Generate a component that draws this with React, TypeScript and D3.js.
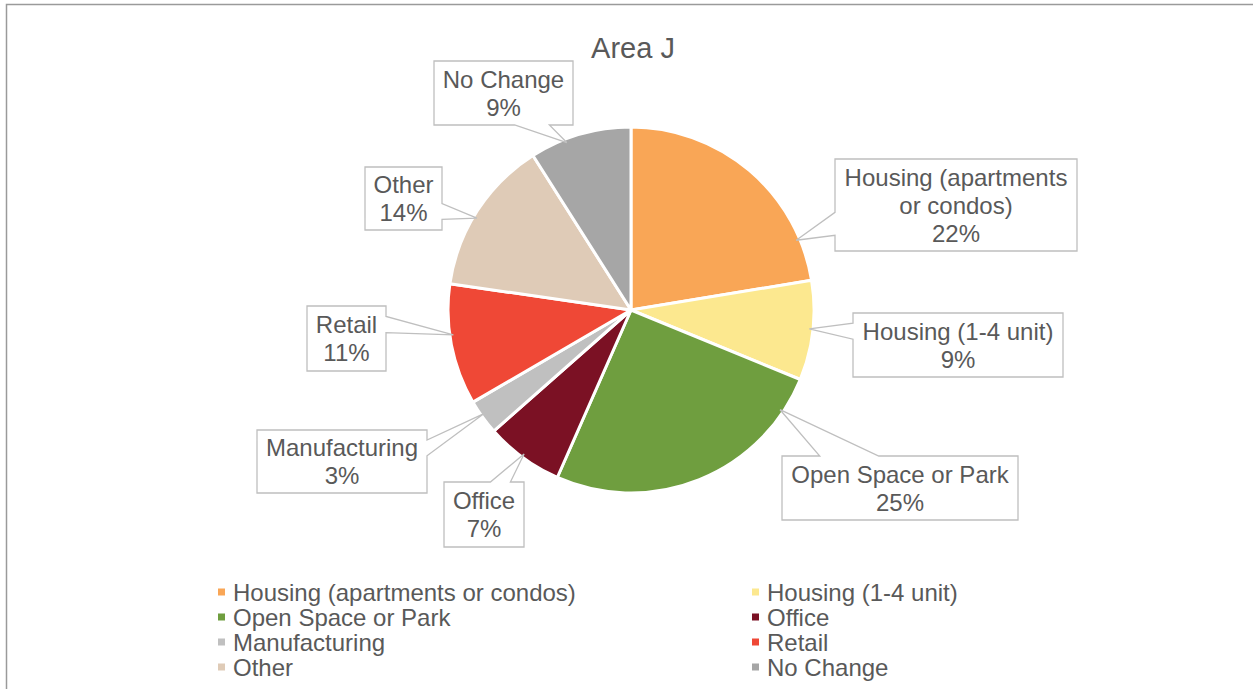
import React from "react";
import * as d3 from "d3";

const title = "Area J";
const categories = [
  "Housing (apartments or condos)",
  "Housing (1-4 unit)",
  "Open Space or Park",
  "Office",
  "Manufacturing",
  "Retail",
  "Other",
  "No Change",
];
const values = [22.4, 8.8, 25.4, 6.9, 3.1, 10.7, 13.7, 9.0];
const colors = ["#F9A656", "#FCE88F", "#6F9E3F", "#7B1124", "#C0C0C0", "#EF4836", "#DFCBB7", "#A6A6A6"];
const labelNames = [
  ["Housing (apartments", "or condos)"],
  ["Housing (1-4 unit)"],
  ["Open Space or Park"],
  ["Office"],
  ["Manufacturing"],
  ["Retail"],
  ["Other"],
  ["No Change"],
];

// layout (positions of callout boxes)
const boxes = [
  { x: 835, y: 159, w: 242, h: 92, edge: "left" },
  { x: 853, y: 313, w: 210, h: 64, edge: "left" },
  { x: 782, y: 456, w: 236, h: 64, edge: "top" },
  { x: 444, y: 482, w: 80, h: 65, edge: "top" },
  { x: 257, y: 430, w: 170, h: 63, edge: "right" },
  { x: 307, y: 306, w: 79, h: 65, edge: "right" },
  { x: 365, y: 167, w: 77, h: 63, edge: "right" },
  { x: 434, y: 61, w: 139, h: 64, edge: "bottom" },
];

const W = 1253;
const H = 689;
const cx = 631;
const cy = 310;
const R = 183;
const FONT = "'Liberation Sans', Arial, sans-serif";
const TXT = "#595959";

function edgeMid(b: any) {
  if (b.edge === "left") return [b.x, b.y + b.h / 2];
  if (b.edge === "right") return [b.x + b.w, b.y + b.h / 2];
  if (b.edge === "top") return [b.x + b.w / 2, b.y];
  return [b.x + b.w / 2, b.y + b.h];
}

function angleTo(px: number, py: number) {
  let a = Math.atan2(px - cx, -(py - cy));
  if (a < 0) a += Math.PI * 2;
  return a;
}

function clampAngle(a: number, s: number, e: number) {
  const m = (4 * Math.PI) / 180;
  const lo = s + Math.min(m, (e - s) / 2);
  const hi = e - Math.min(m, (e - s) / 2);
  if (e > Math.PI * 1.5 && a < Math.PI / 2) a += Math.PI * 2;
  return Math.max(lo, Math.min(hi, a));
}

function basePoints(b: any, tip: [number, number]) {
  const horiz = b.edge === "top" || b.edge === "bottom";
  const len = horiz ? b.w : b.h;
  const start = horiz ? b.x : b.y;
  const tipCoord = horiz ? tip[0] : tip[1];
  const center = start + len / 2;
  const [f1, f2] = tipCoord < center ? [0.16, 0.41] : [0.58, 0.83];
  const p1 = start + f1 * len;
  const p2 = start + f2 * len;
  if (b.edge === "left") return [[b.x, p1], [b.x, p2]];
  if (b.edge === "right") return [[b.x + b.w, p1], [b.x + b.w, p2]];
  if (b.edge === "top") return [[p1, b.y], [p2, b.y]];
  return [[p1, b.y + b.h], [p2, b.y + b.h]];
}

function calloutPath(b: any, tip: [number, number]) {
  const [a, c] = basePoints(b, tip);
  const { x, y, w, h } = b;
  const pts: number[][] = [];
  pts.push([x, y]);
  if (b.edge === "top") pts.push(a, tip, c);
  pts.push([x + w, y]);
  if (b.edge === "right") pts.push(a, tip, c);
  pts.push([x + w, y + h]);
  if (b.edge === "bottom") pts.push(c, tip, a);
  pts.push([x, y + h]);
  if (b.edge === "left") pts.push(c, tip, a);
  return "M" + pts.map((p) => p[0] + "," + p[1]).join("L") + "Z";
}

export default function App() {
  const total = d3.sum(values);
  const pie = d3
    .pie<number>()
    .sort(null)
    .value((d) => d)
    .startAngle(0)
    .endAngle(Math.PI * 2);
  const arcs = pie(values);
  const arc = d3.arc<any>().innerRadius(0).outerRadius(R);

  const legendRows = [592, 617, 642, 667];
  const legendCols = [
    { mx: 218, tx: 233 },
    { mx: 752, tx: 767 },
  ];

  return (
    <div style={{ position: "fixed", left: 0, top: 0, width: W, height: H, background: "#fff" }}>
      <svg width={W} height={H} style={{ display: "block" }}>
        <rect x={0} y={0} width={W} height={H} fill="#fff" />
        <rect x={6.5} y={4.5} width={W + 10} height={H + 10} fill="none" stroke="#9A9A9A" strokeWidth={1.5} />
        <text x={633} y={58} textAnchor="middle" fontFamily={FONT} fontSize={29} fill={TXT}>
          {title}
        </text>
        <g transform={`translate(${cx},${cy})`}>
          {arcs.map((a, i) => (
            <path key={i} d={arc(a) as string} fill={colors[i]} stroke="#fff" strokeWidth={3} strokeLinejoin="round" />
          ))}
        </g>
        {arcs.map((a, i) => {
          const b = boxes[i];
          const em = edgeMid(b);
          const a0 = clampAngle(angleTo(em[0], em[1]), a.startAngle, a.endAngle);
          const tip0: [number, number] = [cx + R * Math.sin(a0), cy - R * Math.cos(a0)];
          const [p1, p2] = basePoints(b, tip0);
          const bm = [(p1[0] + p2[0]) / 2, (p1[1] + p2[1]) / 2];
          const dirAng = clampAngle(angleTo(bm[0], bm[1]), a.startAngle, a.endAngle);
          const mid = (a.startAngle + a.endAngle) / 2;
          const frac = (a.endAngle - a.startAngle) / (Math.PI * 2);
          const ang = frac < 0.15 ? mid * 0.6 + dirAng * 0.4 : dirAng;
          const rr = R * 0.98;
          const tip: [number, number] = [cx + rr * Math.sin(ang), cy - rr * Math.cos(ang)];
          const lines = [...labelNames[i], Math.round((values[i] / total) * 100) + "%"];
          const bcy = b.y + b.h / 2;
          return (
            <g key={"c" + i}>
              <path d={calloutPath(b, tip)} fill="#fff" stroke="#BFBFBF" strokeWidth={1.3} />
              {lines.map((l, j) => (
                <text
                  key={j}
                  x={b.x + b.w / 2}
                  y={bcy + (j - (lines.length - 1) / 2) * 28 + 8.5}
                  textAnchor="middle"
                  fontFamily={FONT}
                  fontSize={24}
                  fill={TXT}
                >
                  {l}
                </text>
              ))}
            </g>
          );
        })}
        {categories.map((c, i) => {
          const col = legendCols[i % 2];
          const ry = legendRows[Math.floor(i / 2)];
          return (
            <g key={"l" + i}>
              <rect x={col.mx} y={ry - 3.5} width={7} height={7} fill={colors[i]} />
              <text x={col.tx} y={ry + 8.5} fontFamily={FONT} fontSize={24} fill={TXT}>
                {c}
              </text>
            </g>
          );
        })}
      </svg>
    </div>
  );
}
